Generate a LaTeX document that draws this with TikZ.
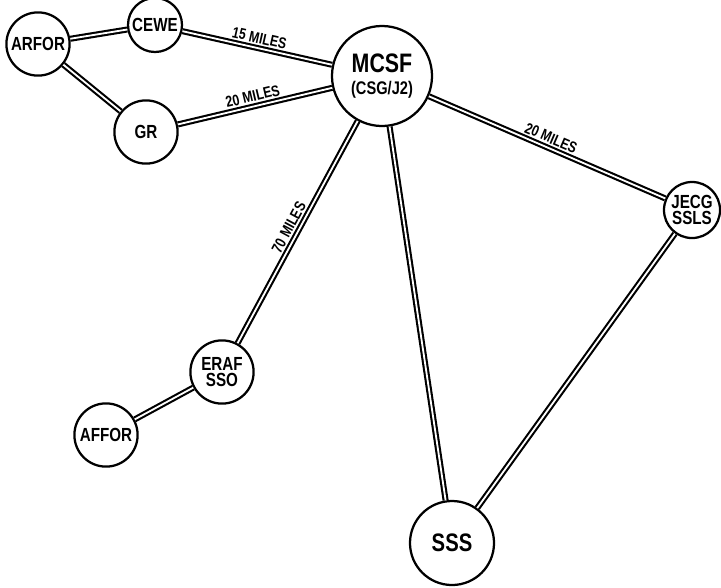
\documentclass[tikz,border=0pt]{standalone}
\usepackage{fontspec}
\setmainfont{Liberation Sans}[FakeStretch=0.8]
\usepackage{tikz}
\usetikzlibrary{positioning}

\begin{document}
\begin{tikzpicture}[
      x=0.025cm, y=-0.025cm,
      site/.style  = {draw, circle, line width=1.6pt, inner sep=1pt, align=center,
                      font=\bfseries\fontsize{13.5}{15}\selectfont, minimum size=1.58cm},
      hub/.style   = {site, minimum size=2.5cm, font=\bfseries\fontsize{13}{16}\selectfont},
      link/.style  = {double, double distance=1.3pt, line width=1.5pt},
      dist/.style  = {font=\bfseries\fontsize{11}{12}\selectfont, above, sloped, inner sep=2.5pt}
  ]
  \useasboundingbox (0,0) rectangle (721,587);

  % --- Sites ---
  \node[site] (arfor) at (38,44)   {ARFOR};
  \node[site, minimum size=1.35cm] (cewe) at (155,25) {CEWE};
  \node[site] (gr)    at (146,132) {GR};
  \node[hub]  (mcsf)  at (382,76)  {{\fontsize{19}{20}\selectfont MCSF}\\(CSG/J2)};
  \node[site, minimum size=1.4cm] (jecg) at (692,210) {JECG\\[-3pt]SSLS};
  \node[site] (eraf)  at (222,372) {ERAF\\[-3pt]SSO};
  \node[site] (affor) at (106,435) {AFFOR};
  \node[site, minimum size=2.1cm, font=\bfseries\fontsize{18}{19}\selectfont] (sss) at (452,543) {SSS};

  % --- Links ---
  \draw[link] (arfor) -- (cewe);
  \draw[link] (arfor) -- (gr);
  \draw[link] (cewe) -- node[dist] {15 MILES} (mcsf);
  \draw[link] (gr) -- node[dist] {20 MILES} (mcsf);
  \draw[link] (mcsf) -- node[dist] {20 MILES} (jecg);
  \draw[link] (eraf) -- node[dist, pos=0.5] {70 MILES} (mcsf);
  \draw[link] (mcsf) -- (sss);
  \draw[link] (jecg) -- (sss);
  \draw[link] (eraf) -- (affor);

\end{tikzpicture}
\end{document}
